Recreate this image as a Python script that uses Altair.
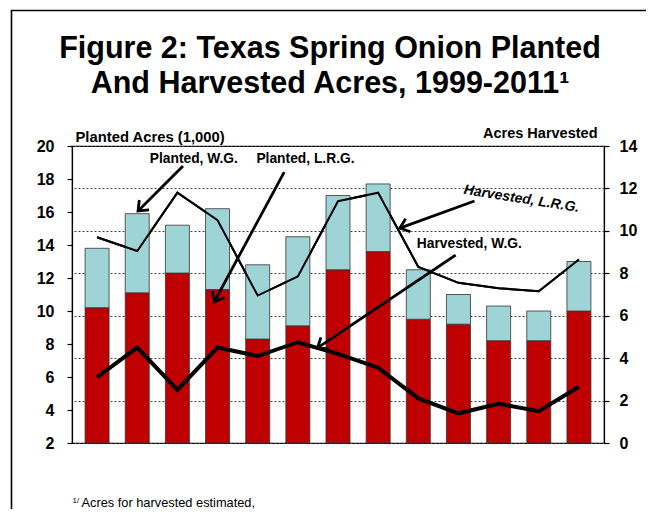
import math
import altair as alt
import pandas as pd

# ---------------- data ----------------
years = list(range(1999, 2012))
planted_lrg = [10.2, 11.1, 12.3, 11.3, 8.3, 9.1, 12.5, 13.6, 9.5, 9.2, 8.2, 8.2, 10.0]
planted_wg = [3.6, 4.8, 2.9, 4.9, 4.5, 5.4, 4.5, 4.1, 3.0, 1.8, 2.1, 1.8, 3.0]
harvested_lrg = [9.7, 9.05, 11.8, 10.5, 6.95, 7.85, 11.4, 11.8, 8.3, 7.55, 7.3, 7.15, 8.65]
harvested_wg = [3.1, 4.5, 2.5, 4.5, 4.1, 4.75, 4.2, 3.55, 2.1, 1.4, 1.85, 1.5, 2.65]

title_lines = ["Figure 2:  Texas Spring Onion Planted", "And Harvested Acres, 1999-2011\u00b9"]
left_title = "Planted Acres (1,000)"
right_title = "Acres Harvested"
footnote_mark = "1/"
footnote_text = "Acres for harvested estimated,"

planted_labels = ["Planted, W.G.", "Planted, L.R.G."]
planted_label_x = [2001.41, 2004.19]
planted_label_y = [18.97, 18.97]
planted_arrow = {"x0": [2001.14, 2003.66], "y0": [18.79, 18.42],
                 "x1": [2000.02, 2001.92], "y1": [16.06, 10.56]}

harv_lrg_label = ["Harvested, L.R.G."]
harv_lrg_label_x = [2009.57]
harv_lrg_label_y = [11.5]
harv_wg_label = ["Harvested, W.G."]
harv_wg_label_x = [2008.27]
harv_wg_label_y = [9.19]
harvested_arrow = {"x0": [2008.4, 2007.93], "y0": [11.41, 8.86],
                   "x1": [2006.54, 2004.49], "y1": [10.13, 4.48]}

# ---------------- layout ----------------
W, H = 532, 297
XDOM = [1998.5, 2011.5]
LDOM = [2, 20]
RDOM = [0, 14]
PXX = W / (XDOM[1] - XDOM[0])
PXL = H / (LDOM[1] - LDOM[0])
PXR = H / (RDOM[1] - RDOM[0])
FONT = "Liberation Sans"
RED = "#C00000"
TEAL = "#9FD4D7"

df = pd.DataFrame({
    "year": years,
    "planted_lrg": planted_lrg,
    "planted_wg": planted_wg,
    "harvested_lrg": harvested_lrg,
    "harvested_wg": harvested_wg,
})

xscale = alt.Scale(domain=XDOM, nice=False, zero=False)
lscale = alt.Scale(domain=LDOM, nice=False, zero=False)
rscale = alt.Scale(domain=RDOM, nice=False, zero=False)

x_axis = alt.Axis(
    values=[XDOM[0] + i for i in range(14)],
    labelExpr="datum.value < 2011 ? format(datum.value + 0.5, 'd') : ''",
    labelOffset=PXX / 2, tickSize=5, labelPadding=9,
    labelFontSize=14.5, labelFontWeight="bold", labelColor="black",
    labelFlush=False, labelOverlap=False, labelBound=False,
    domainColor="black", domainWidth=1.2, tickColor="black", tickWidth=1.2,
    grid=False, title=None,
)
left_axis = alt.Axis(
    values=list(range(2, 21, 2)), orient="left", tickSize=5, labelPadding=13,
    labelFontSize=16, labelFontWeight="bold", labelColor="black",
    domainColor="black", domainWidth=1.2, tickColor="black", tickWidth=1.2,
    grid=False, labelFlush=False,
    title=left_title, titleAngle=0, titleAlign="left", titleBaseline="alphabetic",
    titleX=3, titleY=-5, titleFontSize=14.8, titleFontWeight="bold", titleColor="black",
)
right_axis = alt.Axis(
    values=list(range(0, 15, 2)), orient="right", tickSize=5, labelPadding=10,
    labelFontSize=16, labelFontWeight="bold", labelColor="black",
    domainColor="black", domainWidth=1.2, tickColor="black", tickWidth=1.2,
    grid=True, gridDash=[2, 2], gridColor="#444444", gridWidth=1, labelFlush=False,
    title=right_title, titleAngle=0, titleAlign="right", titleBaseline="alphabetic",
    titleX=-7, titleY=-9, titleFontSize=14.5, titleFontWeight="bold", titleColor="black",
)

base = alt.Chart(df)

# right-axis layer first (so its grid lies beneath the bars)
line_lrg = base.mark_line(color="black", strokeWidth=2).encode(
    x=alt.X("year:Q", scale=xscale, axis=x_axis),
    y=alt.Y("harvested_lrg:Q", scale=rscale, axis=right_axis),
)

red_bars = base.mark_bar(size=24, color=RED, stroke="#333333", strokeWidth=0.8).encode(
    x=alt.X("year:Q", scale=xscale, axis=None),
    y=alt.Y("planted_lrg:Q", scale=lscale, axis=left_axis),
    y2=alt.datum(2),
)
teal_bars = base.transform_calculate(total="datum.planted_lrg + datum.planted_wg").mark_bar(
    size=24, color=TEAL, stroke="#333333", strokeWidth=0.8).encode(
    x=alt.X("year:Q", scale=xscale, axis=None),
    y=alt.Y("total:Q", scale=lscale, axis=None),
    y2="planted_lrg:Q",
)

line_lrg_top = base.mark_line(color="black", strokeWidth=2).encode(
    x=alt.X("year:Q", scale=xscale, axis=None),
    y=alt.Y("harvested_lrg:Q", scale=rscale, axis=None),
)
line_wg = base.mark_line(color="black", strokeWidth=4).encode(
    x=alt.X("year:Q", scale=xscale, axis=None),
    y=alt.Y("harvested_wg:Q", scale=rscale, axis=None),
)


def arrow_layers(arrow, px_y, yscale):
    a = pd.DataFrame(arrow)
    a["angle"] = [
        math.degrees(math.atan2(-(y1 - y0) * px_y, (x1 - x0) * PXX)) % 360
        for x0, y0, x1, y1 in zip(a.x0, a.y0, a.x1, a.y1)
    ]
    shaft = alt.Chart(a).mark_rule(color="black", strokeWidth=2.8).encode(
        x=alt.X("x0:Q", scale=xscale, axis=None),
        x2="x1:Q",
        y=alt.Y("y0:Q", scale=yscale, axis=None),
        y2="y1:Q",
    )
    head = alt.Chart(a).mark_point(
        shape="M-1,-0.8L0,0L-1,0.8", filled=False, stroke="black",
        strokeWidth=2.8, size=300, opacity=1, strokeJoin="miter",
    ).encode(
        x=alt.X("x1:Q", scale=xscale, axis=None),
        y=alt.Y("y1:Q", scale=yscale, axis=None),
        angle=alt.Angle("angle:Q", scale=None),
    )
    return [shaft, head]


p_lab = pd.DataFrame({"label": planted_labels, "x": planted_label_x, "y": planted_label_y})
planted_text = alt.Chart(p_lab).mark_text(
    fontSize=13.8, fontWeight="bold", font=FONT, color="black", align="center", baseline="alphabetic"
).encode(
    x=alt.X("x:Q", scale=xscale, axis=None),
    y=alt.Y("y:Q", scale=lscale, axis=None),
    text="label:N",
)
h1 = pd.DataFrame({"label": harv_lrg_label, "x": harv_lrg_label_x, "y": harv_lrg_label_y})
harv_lrg_text = alt.Chart(h1).mark_text(
    fontSize=14, fontWeight="bold", fontStyle="italic", font=FONT, color="black",
    align="center", baseline="middle", angle=9,
).encode(
    x=alt.X("x:Q", scale=xscale, axis=None),
    y=alt.Y("y:Q", scale=rscale, axis=None),
    text="label:N",
)
h2 = pd.DataFrame({"label": harv_wg_label, "x": harv_wg_label_x, "y": harv_wg_label_y})
harv_wg_text = alt.Chart(h2).mark_text(
    fontSize=13.8, fontWeight="bold", font=FONT, color="black", align="center", baseline="alphabetic"
).encode(
    x=alt.X("x:Q", scale=xscale, axis=None),
    y=alt.Y("y:Q", scale=rscale, axis=None),
    text="label:N",
)

# titles / decorations (pixel positions relative to plot area)
t1 = alt.Chart(pd.DataFrame({"t": [title_lines[0]]})).mark_text(
    fontSize=30.5, fontWeight="bold", font=FONT, color="black", align="center", baseline="alphabetic"
).encode(x=alt.value(258), y=alt.value(-88), text="t:N")
t2 = alt.Chart(pd.DataFrame({"t": [title_lines[1]]})).mark_text(
    fontSize=30.5, fontWeight="bold", font=FONT, color="black", align="center", baseline="alphabetic"
).encode(x=alt.value(258), y=alt.value(-53), text="t:N")
fn1 = alt.Chart(pd.DataFrame({"t": [footnote_mark]})).mark_text(
    fontSize=8, font=FONT, color="black", align="left", baseline="alphabetic"
).encode(x=alt.value(0.5), y=alt.value(357), text="t:N")
fn2 = alt.Chart(pd.DataFrame({"t": [footnote_text]})).mark_text(
    fontSize=12.8, font=FONT, color="black", align="left", baseline="alphabetic"
).encode(x=alt.value(9.5), y=alt.value(361), text="t:N")

frame_left = alt.Chart(pd.DataFrame({"k": [0]})).mark_rule(color="black", strokeWidth=1.6).encode(
    x=alt.value(-60.5), y=alt.value(-135.5), y2=alt.value(420))
frame_top = alt.Chart(pd.DataFrame({"k": [0]})).mark_rule(color="black", strokeWidth=1.6).encode(
    x=alt.value(-61.3), x2=alt.value(620), y=alt.value(-135.5))

layers = [line_lrg, red_bars, teal_bars, line_lrg_top, line_wg]
layers += arrow_layers(planted_arrow, PXL, lscale)
layers += arrow_layers(harvested_arrow, PXR, rscale)
layers += [planted_text, harv_lrg_text, harv_wg_text, t1, t2, fn1, fn2, frame_left, frame_top]

chart = alt.layer(*layers).resolve_scale(y="independent").properties(
    width=W, height=H,
    autosize=alt.AutoSizeParams(type="none"),
    padding={"left": 64, "top": 138, "right": 42, "bottom": 66},
).configure(font=FONT).configure_view(stroke="black", strokeWidth=1.2)

chart.save("out.html", embed_options={"renderer": "svg", "actions": False})
